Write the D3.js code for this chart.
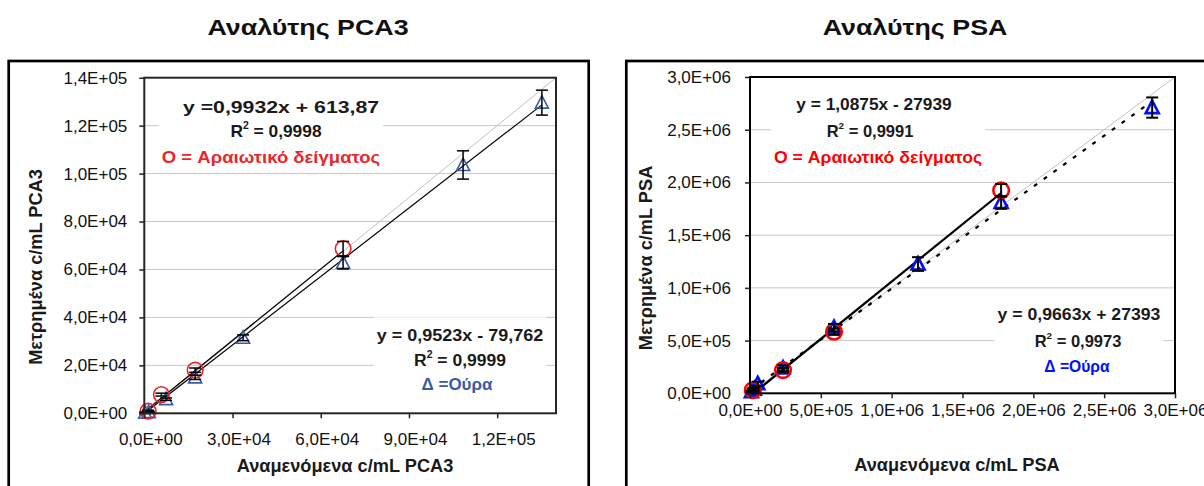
<!DOCTYPE html>
<html><head><meta charset="utf-8">
<script src="https://cdn.jsdelivr.net/npm/d3@7"></script>
<style>
body{margin:0;background:#fff;}
svg{display:block;font-family:"Liberation Sans",Arial,sans-serif;}
</style></head><body>
<svg id="c" width="1204" height="486"></svg>
<script>
// ---------- PCA3 chart data ----------
const pcaTitle = "Αναλύτης PCA3";
const pcaXLabel = "Αναμενόμενα c/mL PCA3";
const pcaYLabel = "Μετρημένα c/mL PCA3";
const pcaXTicks = [0, 30000, 60000, 90000, 120000];
const pcaYTicks = [0, 20000, 40000, 60000, 80000, 100000, 120000, 140000];
const pcaDilX = [1300, 5800, 17300, 67600];
const pcaDilY = [900, 7800, 18000, 68700];
const pcaDilErr = [400, 600, 900, 3000];
const pcaUrineX = [300, 1500, 7400, 17300, 33600, 67600, 108400, 135200];
const pcaUrineY = [200, 500, 5900, 15000, 31500, 62800, 103600, 129600];
const pcaUrineErr = [300, 300, 500, 900, 1200, 2600, 5900, 5200];
const pcaDilFit = [0.9932, 613.87];
const pcaUrineFit = [0.9523, -79.762];
const pcaDilEq = ["y =0,9932x + 613,87", "0,9998"];
const pcaUrineEq = ["y = 0,9523x - 79,762", "0,9999"];

// ---------- PSA chart data ----------
const psaTitle = "Αναλύτης PSA";
const psaXLabel = "Αναμενόμενα c/mL PSA";
const psaYLabel = "Μετρημένα c/mL PSA";
const psaXTicks = [0, 500000, 1000000, 1500000, 2000000, 2500000, 3000000];
const psaYTicks = [0, 500000, 1000000, 1500000, 2000000, 2500000, 3000000];
const psaDilX = [20000, 233000, 593000, 1772600];
const psaDilY = [30000, 220000, 584000, 1925000];
const psaDilErr = [15000, 20000, 30000, 60000];
const psaUrineX = [10000, 30000, 55000, 233000, 593000, 1186000, 1772600, 2839000];
const psaUrineY = [15000, 40000, 90000, 240000, 623000, 1226000, 1810000, 2710000];
const psaUrineErr = [10000, 15000, 20000, 25000, 35000, 65000, 60000, 96000];
const psaDilFit = [1.0875, -27939];
const psaUrineFit = [0.9663, 27393];
const psaDilEq = ["y = 1,0875x - 27939", "0,9991"];
const psaUrineEq = ["y = 0,9663x + 27393", "0,9973"];

const dilLegend = "O = Αραιωτικό δείγματος";
const urineLegend = "Δ =Ούρα";

const fmt = v => {
  if (v === 0) return "0,0E+00";
  const e = Math.floor(Math.log10(v) + 1e-9);
  const m = v / Math.pow(10, e);
  return m.toFixed(1).replace(".", ",") + "E+" + String(e).padStart(2, "0");
};

const svg = d3.select("#c");

// text placed at (x,y), horizontally stretched by sx, rotated by rot
function stext(parent, x, y, sx, rot) {
  return parent.append("text")
    .attr("transform", `translate(${x},${y})` + (rot ? ` rotate(${rot})` : "") + ` scale(${sx},1)`)
    .attr("text-anchor", "middle").attr("dominant-baseline", "central");
}

function drawChart(c) {
  const g = svg.append("g");
  // outer frame
  g.append("rect").attr("x", c.frame[0]).attr("y", c.frame[1]).attr("width", c.frame[2]).attr("height", c.frame[3])
    .attr("fill", "none").attr("stroke", "#000").attr("stroke-width", 2.7);
  // title
  stext(g, c.titlePos[0], c.titlePos[1], 1.22).attr("font-weight", "bold").attr("font-size", 22)
    .attr("fill", "#111").text(c.title);

  const x = d3.scaleLinear().domain(c.xDomain).range([c.plot[0], c.plot[2]]);
  const y = d3.scaleLinear().domain(c.yDomain).range([c.plot[3], c.plot[1]]);

  // gridlines
  g.append("g").selectAll("line").data(c.yTicks.filter(t => t > c.yDomain[0] && t < c.yDomain[1])).join("line")
    .attr("x1", c.plot[0]).attr("x2", c.plot[2]).attr("y1", d => y(d)).attr("y2", d => y(d))
    .attr("stroke", "#c8c8c8").attr("stroke-width", 1);

  // annotation boxes (white background hides gridlines)
  function annot(lines) {
    const ag = g.append("g");
    lines.forEach(L => {
      const t = stext(ag, L.x, L.y, L.sx || 1).attr("font-weight", "bold").attr("font-size", c.annFont)
        .attr("fill", L.color || "#1a1a1a");
      if (L.r2) {
        t.append("tspan").text("R");
        t.append("tspan").attr("baseline-shift", "super").attr("font-size", c.annFont * 0.6).text("2");
        t.append("tspan").text(" = " + L.r2);
      } else t.text(L.text);
    });
    const bb = ag.node().getBBox();
    ag.insert("rect", ":first-child").attr("x", bb.x - 3).attr("y", bb.y - 8).attr("width", bb.width + 6)
      .attr("height", bb.height + 14).attr("fill", "#fff");
  }
  annot(c.topAnn);
  annot(c.botAnn);

  // identity line
  g.append("line").attr("x1", x(c.xDomain[0])).attr("y1", y(c.yDomain[0])).attr("x2", x(c.xDomain[1])).attr("y2", y(c.yDomain[1]))
    .attr("stroke", "#c0c0c0").attr("stroke-width", 1);

  // trend lines
  function trend(xs, fit, style) {
    const x0 = d3.min(xs), x1 = d3.max(xs);
    g.append("line").attr("x1", x(x0)).attr("y1", y(fit[0] * x0 + fit[1])).attr("x2", x(x1)).attr("y2", y(fit[0] * x1 + fit[1]))
      .attr("stroke", "#000").attr("stroke-width", style.w).attr("stroke-dasharray", style.dash || null);
  }
  trend(c.dilX, c.dilFit, c.dilTrend);
  trend(c.urX, c.urFit, c.urTrend);

  // markers
  const urData = c.urX.map((v, i) => ({ x: v, y: c.urY[i], e: c.urErr[i] }));
  const dilData = c.dilX.map((v, i) => ({ x: v, y: c.dilY[i], e: c.dilErr[i] }));
  g.append("g").selectAll("path").data(urData).join("path")
    .attr("transform", d => `translate(${x(d.x)},${y(d.y)})`)
    .attr("d", "M0,-7 L6.5,5.5 L-6.5,5.5 Z").attr("fill", "none")
    .attr("stroke", c.blue).attr("stroke-width", c.mw);
  g.append("g").selectAll("circle").data(dilData).join("circle")
    .attr("cx", d => x(d.x)).attr("cy", d => y(d.y)).attr("r", 7.8).attr("fill", "none")
    .attr("stroke", c.red).attr("stroke-width", c.mw);

  // error bars
  const eb = g.append("g").attr("stroke", "#000").attr("stroke-width", c.ew);
  urData.concat(dilData).forEach(d => {
    const px = x(d.x), t = y(d.y + d.e), b = y(d.y - d.e);
    eb.append("line").attr("x1", px).attr("x2", px).attr("y1", t).attr("y2", b);
    eb.append("line").attr("x1", px - 6).attr("x2", px + 6).attr("y1", t).attr("y2", t);
    eb.append("line").attr("x1", px - 6).attr("x2", px + 6).attr("y1", b).attr("y2", b);
  });

  // plot border
  g.append("rect").attr("x", c.plot[0]).attr("y", c.plot[1]).attr("width", c.plot[2] - c.plot[0])
    .attr("height", c.plot[3] - c.plot[1]).attr("fill", "none").attr("stroke", c.border).attr("stroke-width", 2);

  // axes
  const xa = g.append("g").attr("transform", `translate(0,${c.plot[3]})`)
    .call(d3.axisBottom(x).tickValues(c.xTicks).tickFormat(fmt).tickSize(5).tickPadding(c.xPad));
  const ya = g.append("g").attr("transform", `translate(${c.plot[0]},0)`)
    .call(d3.axisLeft(y).tickValues(c.yTicks).tickFormat(fmt).tickSize(5).tickPadding(c.yPad));
  [xa, ya].forEach(a => {
    a.select(".domain").remove();
    a.selectAll(".tick line").attr("stroke", "#222").attr("stroke-width", 1.5);
    a.selectAll("text").attr("font-size", 17).attr("fill", "#111")
      .attr("font-family", '"Liberation Sans",Arial,sans-serif');
  });
  xa.selectAll("text").attr("dx", c.xLabDx);

  // axis titles
  stext(g, c.xTitlePos[0], c.xTitlePos[1], 1.04).attr("font-weight", "bold").attr("font-size", 17.5)
    .attr("fill", "#1a1a1a").text(c.xLabel);
  stext(g, c.yTitlePos[0], c.yTitlePos[1], 1.04, -90).attr("font-weight", "bold").attr("font-size", 17.5)
    .attr("fill", "#1a1a1a").text(c.yLabel);
}

drawChart({
  frame: [8.7, 61, 580, 500], title: pcaTitle, titlePos: [308, 27],
  plot: [144.3, 77.7, 556, 413.3], xDomain: [0, 140000], yDomain: [0, 140000],
  xTicks: pcaXTicks, yTicks: pcaYTicks, xPad: 15, yPad: 12, xLabDx: 6,
  dilX: pcaDilX, dilY: pcaDilY, dilErr: pcaDilErr, urX: pcaUrineX, urY: pcaUrineY, urErr: pcaUrineErr,
  dilFit: pcaDilFit, urFit: pcaUrineFit,
  dilTrend: { w: 1.2 }, urTrend: { w: 1.2 },
  blue: "#3a5aa8", red: "#e8262d", mw: 1.6, ew: 1.5, border: "#262626", annFont: 17,
  topAnn: [{ x: 281, y: 107, text: pcaDilEq[0], sx: 1.25 }, { x: 276, y: 131, r2: pcaDilEq[1], sx: 1.02 },
           { x: 271, y: 157, text: dilLegend, color: "#e8262d", sx: 1.09 }],
  botAnn: [{ x: 460, y: 335, text: pcaUrineEq[0], sx: 1.06 }, { x: 460, y: 360, r2: pcaUrineEq[1], sx: 1.03 },
           { x: 457, y: 384, text: urineLegend, color: "#3a5aa8", sx: 1.0 }],
  xLabel: pcaXLabel, yLabel: pcaYLabel, xTitlePos: [345, 466], yTitlePos: [36, 267]
});

drawChart({
  frame: [626.3, 61, 700, 500], title: psaTitle, titlePos: [915, 27],
  plot: [750, 77, 1175, 393.3], xDomain: [0, 3000000], yDomain: [0, 3000000],
  xTicks: psaXTicks, yTicks: psaYTicks, xPad: 6, yPad: 14, xLabDx: 0,
  dilX: psaDilX, dilY: psaDilY, dilErr: psaDilErr, urX: psaUrineX, urY: psaUrineY, urErr: psaUrineErr,
  dilFit: psaDilFit, urFit: psaUrineFit,
  dilTrend: { w: 2.2 }, urTrend: { w: 2.2, dash: "4,8" },
  blue: "#0010ff", red: "#ff0000", mw: 2.6, ew: 2, border: "#000", annFont: 16.5,
  topAnn: [{ x: 874, y: 105, text: psaDilEq[0], sx: 1.05 }, { x: 870, y: 131, r2: psaDilEq[1], sx: 1.0 },
           { x: 878, y: 158, text: dilLegend, color: "#ff0000", sx: 1.07 }],
  botAnn: [{ x: 1079, y: 315, text: psaUrineEq[0], sx: 1.07 }, { x: 1078, y: 341, r2: psaUrineEq[1], sx: 1.0 },
           { x: 1077, y: 366, text: urineLegend, color: "#0010ff", sx: 0.95 }],
  xLabel: psaXLabel, yLabel: psaYLabel, xTitlePos: [957, 465], yTitlePos: [646, 258]
});
</script>
</body></html>
